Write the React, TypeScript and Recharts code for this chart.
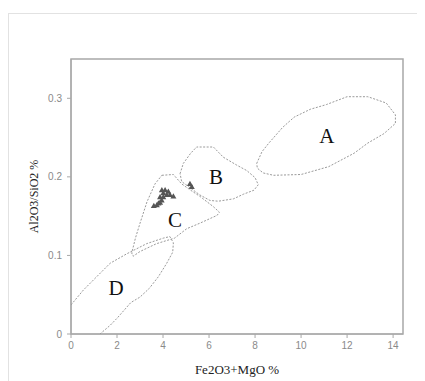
import {
  ScatterChart,
  Scatter,
  XAxis,
  YAxis,
  ReferenceArea,
} from "recharts";

type Pt = [number, number];

// field outlines (x = Fe2O3+MgO %, y = Al2O3/SiO2)
const regionA: Pt[] = [
  [8.07, 0.217], [8.3, 0.232], [8.6, 0.243], [9.2, 0.263], [9.7, 0.276],
  [10.4, 0.286], [11.1, 0.292], [12.0, 0.302], [12.9, 0.302], [13.7, 0.294],
  [14.1, 0.279], [14.1, 0.268], [13.6, 0.255], [12.9, 0.243], [12.3, 0.230],
  [11.2, 0.213], [10.0, 0.203], [8.8, 0.202], [8.35, 0.205], [8.1, 0.211],
  [8.07, 0.217],
];

const regionB: Pt[] = [
  [4.74, 0.204], [4.88, 0.217], [5.2, 0.230], [5.46, 0.238], [6.19, 0.238],
  [6.62, 0.225], [7.2, 0.215], [7.64, 0.208], [8.0, 0.199], [8.14, 0.19],
  [7.95, 0.183], [7.5, 0.178], [7.06, 0.172], [6.4, 0.169], [6.04, 0.17],
  [5.6, 0.177], [5.32, 0.183], [4.81, 0.194], [4.74, 0.204],
];

const regionC: Pt[] = [
  [3.95, 0.202], [4.45, 0.203], [4.81, 0.191], [5.2, 0.183], [5.61, 0.175],
  [6.19, 0.162], [6.45, 0.155], [6.35, 0.151], [5.6, 0.141], [5.03, 0.134],
  [4.5, 0.122], [3.72, 0.115], [3.0, 0.105], [2.7, 0.099], [2.64, 0.103],
  [2.8, 0.122], [3.0, 0.141], [3.3, 0.168], [3.65, 0.191], [3.95, 0.202],
];

const regionD: Pt[] = [
  [0.0, 0.037], [0.54, 0.056], [1.12, 0.073], [1.7, 0.09], [2.42, 0.102],
  [3.29, 0.115], [4.01, 0.122], [4.3, 0.124], [4.45, 0.116], [4.42, 0.104],
  [4.16, 0.09], [3.8, 0.073], [3.4, 0.058], [3.0, 0.047], [2.6, 0.04],
  [2.3, 0.03], [2.0, 0.02], [1.7, 0.011], [1.26, 0.0],
];

const samples: Pt[] = [
  [3.87, 0.174], [4.01, 0.179], [4.09, 0.183], [4.23, 0.181], [4.3, 0.177],
  [4.45, 0.175], [4.16, 0.177], [3.94, 0.17], [3.8, 0.166], [3.73, 0.164],
  [3.87, 0.167], [4.01, 0.174], [3.95, 0.183], [3.6, 0.163], [5.17, 0.191],
  [5.25, 0.187],
];

const fieldLabels = [
  { x: 11.12, y: 0.252, name: "A" },
  { x: 6.3, y: 0.2, name: "B" },
  { x: 4.52, y: 0.145, name: "C" },
  { x: 1.96, y: 0.058, name: "D" },
];

const xTicks = [0, 2, 4, 6, 8, 10, 12, 14];
const yTicks = [0, 0.1, 0.2, 0.3];

const toPts = (arr: Pt[]) => arr.map(([x, y]) => ({ x, y }));

const dashed = { stroke: "#9a9a9a", strokeWidth: 1, strokeDasharray: "2 1.5" };
const tickStyle = { fill: "#8a8a8a", fontSize: 10, fontFamily: "Liberation Sans, Arial, sans-serif" };
const serif = "Liberation Serif, Times New Roman, serif";

const Nothing = () => <g />;

// small filled triangle, ~6px wide
const Tri = (props: any) => {
  const { cx, cy } = props;
  return (
    <path
      d={`M${cx},${cy - 3.2} L${cx + 3},${cy + 2} L${cx - 3},${cy + 2} Z`}
      fill="#555"
    />
  );
};

const Letter = (props: any) => (
  <text
    x={props.cx}
    y={props.cy}
    textAnchor="middle"
    dominantBaseline="central"
    fontFamily={serif}
    fontSize={21}
    fill="#111"
  >
    {props.payload.name}
  </text>
);

export default function App() {
  return (
    <div style={{ position: "relative", width: 417, height: 373 }}>
      <div
        style={{
          position: "absolute",
          top: 5,
          left: 0,
          right: 0,
          bottom: 0,
          borderTop: "1px solid #e2e2e2",
          borderLeft: "1px solid #e2e2e2",
        }}
      />
      <ScatterChart
        width={417}
        height={373}
        margin={{ top: 51, right: 22, left: 0, bottom: 0 }}
        style={{ position: "absolute", top: 0, left: 0 }}
      >
        <XAxis
          type="number"
          dataKey="x"
          domain={[0, 14.43]}
          ticks={xTicks}
          interval={0}
          allowDataOverflow
          height={47}
          stroke="#a8a8a8"
          tickSize={4}
          tickMargin={4}
          tick={tickStyle}
          label={{
            value: "Fe2O3+MgO %",
            position: "insideBottom",
            offset: 7,
            style: { fontFamily: serif, fontSize: 13, fill: "#222" },
          }}
        />
        <YAxis
          type="number"
          dataKey="y"
          domain={[0, 0.35]}
          ticks={yTicks}
          interval={0}
          allowDataOverflow
          width={63}
          stroke="#a8a8a8"
          tickSize={4}
          tickMargin={5}
          tick={tickStyle}
          tickFormatter={(v: number) => (v === 0 ? "0" : v.toFixed(1))}
          label={{
            value: "Al2O3/SiO2 %",
            angle: -90,
            position: "center",
            dx: -6,
            style: { fontFamily: serif, fontSize: 12, fill: "#222" },
          }}
        />
        <ReferenceArea
          x1={0}
          x2={14.43}
          y1={0}
          y2={0.35}
          fill="none"
          stroke="#a8a8a8"
          strokeWidth={1.5}
        />
        <Scatter data={toPts(regionA)} line={dashed} lineType="joint" shape={Nothing} isAnimationActive={false} />
        <Scatter data={toPts(regionB)} line={dashed} lineType="joint" shape={Nothing} isAnimationActive={false} />
        <Scatter data={toPts(regionC)} line={dashed} lineType="joint" shape={Nothing} isAnimationActive={false} />
        <Scatter data={toPts(regionD)} line={dashed} lineType="joint" shape={Nothing} isAnimationActive={false} />
        <Scatter data={toPts(samples)} shape={Tri} isAnimationActive={false} />
        <Scatter data={fieldLabels} shape={Letter} isAnimationActive={false} />
      </ScatterChart>
    </div>
  );
}
